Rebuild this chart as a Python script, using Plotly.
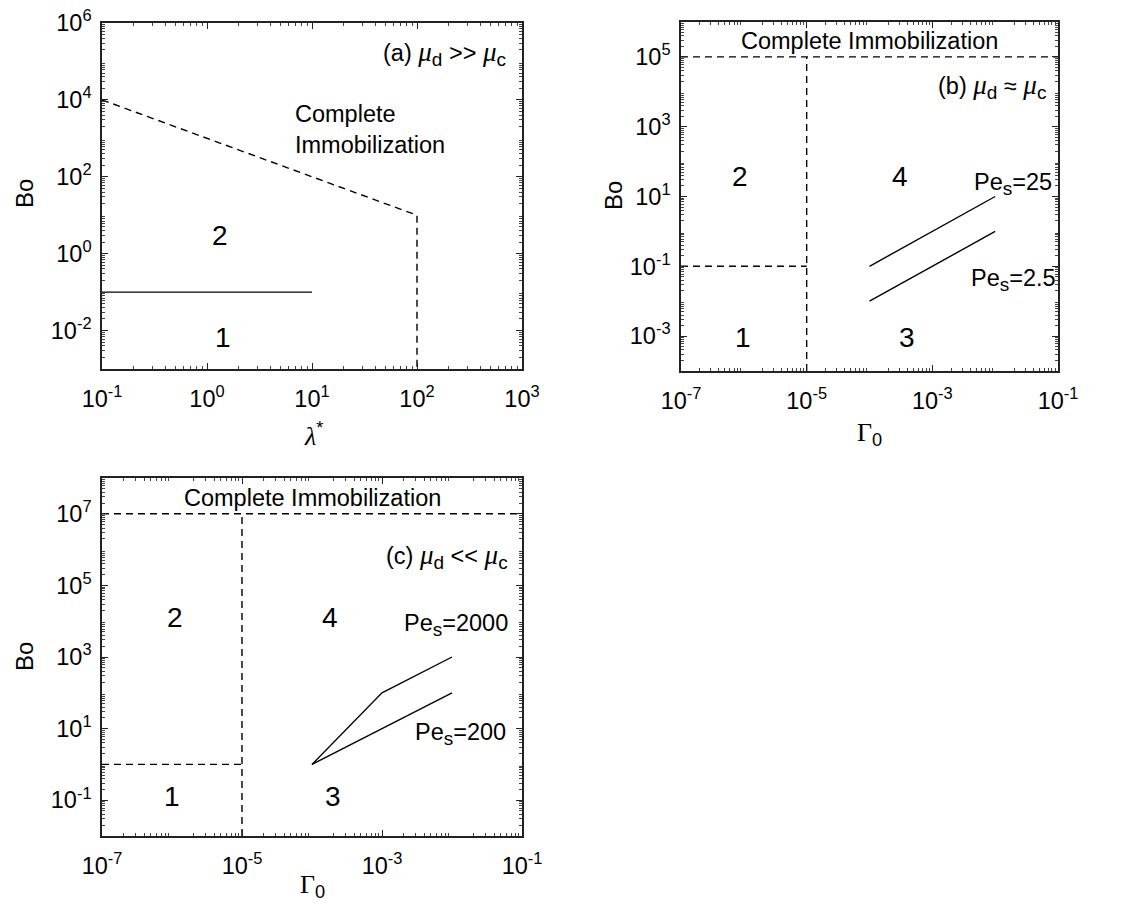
import plotly.graph_objects as go

# ---------------- data ----------------
# panel (a): lambda* vs Bo
a_dash_x = [0.1, 100, 100]
a_dash_y = [1e4, 10, 1e-3]
a_solid_x = [0.1, 10]
a_solid_y = [0.1, 0.1]

# panel (b): Gamma0 vs Bo (mu_d ~ mu_c)
b_top_x = [1e-7, 1e-1]
b_top_y = [1e5, 1e5]
b_vert_x = [1e-5, 1e-5]
b_vert_y = [1e-4, 1e5]
b_low_x = [1e-7, 1e-5]
b_low_y = [0.1, 0.1]
b_pe25_x = [1e-4, 1e-2]
b_pe25_y = [0.1, 10]
b_pe2p5_x = [1e-4, 1e-2]
b_pe2p5_y = [0.01, 1]

# panel (c): Gamma0 vs Bo (mu_d << mu_c)
c_top_x = [1e-7, 1e-1]
c_top_y = [1e7, 1e7]
c_vert_x = [1e-5, 1e-5]
c_vert_y = [1e-2, 1e7]
c_low_x = [1e-7, 1e-5]
c_low_y = [1, 1]
c_pe2000_x = [1e-4, 1e-3, 1e-2]
c_pe2000_y = [1, 100, 1000]
c_pe200_x = [1e-4, 1e-2]
c_pe200_y = [1, 100]

a_xticks = [-1, 0, 1, 2, 3]
a_yticks = [-2, 0, 2, 4, 6]
b_xticks = [-7, -5, -3, -1]
b_yticks = [-3, -1, 1, 3, 5]
c_xticks = [-7, -5, -3, -1]
c_yticks = [-1, 1, 3, 5, 7]

SANS = "Liberation Sans, Arial, sans-serif"
W, H = 1141, 910

fig = go.Figure()

def line(x, y, ax, dash=False):
    fig.add_trace(go.Scatter(
        x=x, y=y, mode="lines", xaxis="x" + ax, yaxis="y" + ax,
        line=dict(color="black", width=1.4, dash="7px,5px" if dash else "solid"),
        showlegend=False, hoverinfo="skip"))

line(a_dash_x, a_dash_y, "", True)
line(a_solid_x, a_solid_y, "")
line(b_top_x, b_top_y, "2", True)
line(b_vert_x, b_vert_y, "2", True)
line(b_low_x, b_low_y, "2", True)
line(b_pe25_x, b_pe25_y, "2")
line(b_pe2p5_x, b_pe2p5_y, "2")
line(c_top_x, c_top_y, "3", True)
line(c_vert_x, c_vert_y, "3", True)
line(c_low_x, c_low_y, "3", True)
line(c_pe2000_x, c_pe2000_y, "3")
line(c_pe200_x, c_pe200_y, "3")

def minor_vals(lo, hi):
    vals = []
    for d in range(lo, hi):
        for m in range(2, 10):
            vals.append(m * 10.0 ** d)
    return vals

def axis(domain, rng, ticks, anchor, standoff):
    return dict(
        type="log", domain=domain, range=rng, anchor=anchor, automargin=False,
        tickvals=[10.0 ** t for t in ticks],
        ticktext=["10<sup>%d</sup>" % t for t in ticks],
        ticks="inside", ticklen=6, tickwidth=1, tickcolor="#222",
        ticklabelstandoff=standoff, ticklabeloverflow="allow",
        minor=dict(ticks="inside", ticklen=3, tickcolor="#444", tickwidth=1,
                   tickvals=minor_vals(rng[0], rng[1])),
        showline=True, linecolor="#222", linewidth=1.5, mirror="ticks",
        showgrid=False, zeroline=False,
        tickfont=dict(family=SANS, size=23.5, color="black"),
    )

def px_x(p):
    return p / W

def px_y(p):
    return 1 - p / H

lay = dict(
    width=W, height=H, margin=dict(l=0, r=0, t=0, b=0),
    paper_bgcolor="white", plot_bgcolor="white", showlegend=False,
    xaxis=axis([px_x(102), px_x(522)], [-1, 3], a_xticks, "y", 8),
    yaxis=axis([px_y(369), px_y(23)], [-3, 6], a_yticks, "x", 4),
    xaxis2=axis([px_x(681), px_x(1058)], [-7, -1], b_xticks, "y2", 8),
    yaxis2=axis([px_y(371), px_y(22)], [-4, 6], b_yticks, "x2", 4),
    xaxis3=axis([px_x(102), px_x(522)], [-7, -1], c_xticks, "y3", 8),
    yaxis3=axis([px_y(836), px_y(478)], [-2, 8], c_yticks, "x3", 4),
)
fig.update_layout(**lay)

ann = []

def txt(text, x, y, ax, size=23.5, xanchor="center", align="center"):
    ann.append(dict(text=text, x=x, y=y, xref="x" + ax, yref="y" + ax,
                    showarrow=False, xanchor=xanchor, yanchor="middle", align=align,
                    font=dict(family=SANS, size=size, color="black")))

def ptxt(text, px, py, size=23.5, angle=0):
    ann.append(dict(text=text, x=px_x(px), y=px_y(py), xref="paper", yref="paper",
                    showarrow=False, xanchor="center", yanchor="middle", textangle=angle,
                    font=dict(family=SANS, size=size, color="black")))

MU = '<span style="font-family:Liberation Serif;font-size:27px"><i>μ</i></span>'

def sub(s):
    return '<sub><span style="font-size:19px">%s</span></sub>' % s

# panel (a)
txt("2", 0.124, 0.485, "", 28)
txt("1", 0.152, -2.19, "", 28)
txt("Complete<br>Immobilization", 0.82, 3.22, "", 23.5, xanchor="left", align="left")
txt("(a) " + MU + sub("d") + " >> " + MU + sub("c"), 2.87, 5.2, "", 23.5, xanchor="right")
# panel (b)
txt("Complete Immobilization", -4.0, 5.46, "2", 23.5)
txt("(b) " + MU + sub("d") + " ≈ " + MU + sub("c"), -1.16, 4.15, "2", 23.5, xanchor="right")
txt("2", -6.06, 1.56, "2", 28)
txt("4", -3.51, 1.56, "2", 28)
txt("1", -6.01, -3.03, "2", 28)
txt("3", -3.40, -3.03, "2", 28)
txt("Pe" + sub("s") + "=25", -2.37, 1.35, "2", 23.5, xanchor="left")
txt("Pe" + sub("s") + "=2.5", -2.42, -1.4, "2", 23.5, xanchor="left")
# panel (c)
txt("Complete Immobilization", -4.0, 7.44, "3", 23.5)
txt("(c) " + MU + sub("d") + " << " + MU + sub("c"), -1.17, 5.8, "3", 23.5, xanchor="right")
txt("2", -5.96, 4.09, "3", 28)
txt("4", -3.74, 4.09, "3", 28)
txt("1", -6.0, -0.91, "3", 28)
txt("3", -3.7, -0.91, "3", 28)
txt("Pe" + sub("s") + "=2000", -2.71, 3.9, "3", 23.5, xanchor="left")
txt("Pe" + sub("s") + "=200", -2.56, 0.85, "3", 23.5, xanchor="left")

# axis titles
ptxt("Bo", 24, 194, 24, -90)
ptxt("Bo", 613, 196, 24, -90)
ptxt("Bo", 24, 657, 24, -90)
ptxt('<span style="font-family:Liberation Serif"><i>λ</i></span><sup>*</sup>', 313, 434, 26)
ptxt('<span style="font-family:Liberation Serif">Γ</span><sub>0</sub>', 869, 434, 26)
ptxt('<span style="font-family:Liberation Serif">Γ</span><sub>0</sub>', 312, 886, 26)

fig.update_layout(annotations=ann)
# the page body has a default 8px margin; remove it so the figure sits at the window origin
fig.write_html("out.html", config={"displayModeBar": False},
               post_script="document.body.style.margin='0px';")
